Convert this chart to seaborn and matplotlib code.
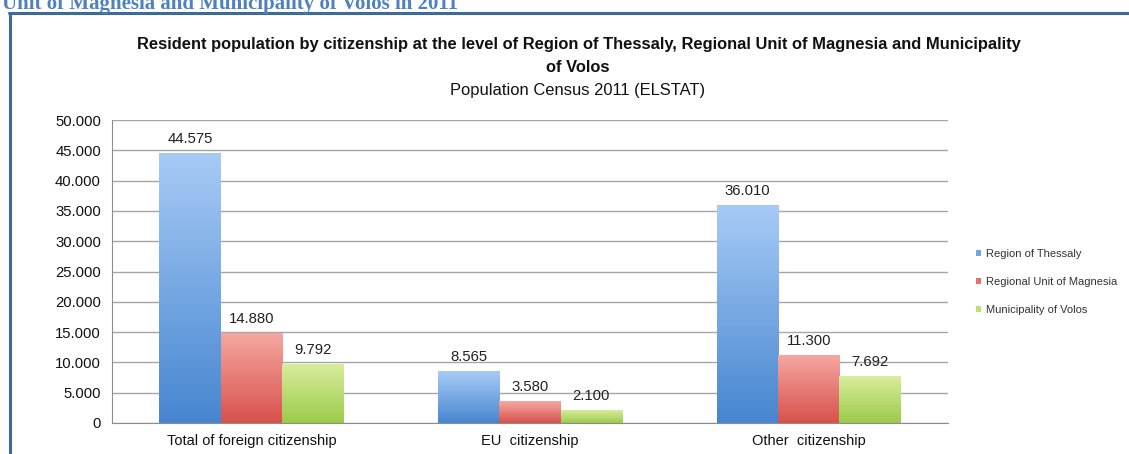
import matplotlib
matplotlib.use("Agg")
import matplotlib.pyplot as plt
import numpy as np
import pandas as pd
import seaborn as sns
from matplotlib.colors import LinearSegmentedColormap
from matplotlib.lines import Line2D
from matplotlib.patches import Patch

# Données (recensement 2011, ELSTAT)
categories = ['Total of foreign citizenship', 'EU  citizenship', 'Other  citizenship']
series = ['Region of Thessaly', 'Regional Unit of Magnesia', 'Municipality of Volos']
thessaly = [44575, 8565, 36010]
magnesia = [14880, 3580, 11300]
volos = [9792, 2100, 7692]
yticks = [0, 5000, 10000, 15000, 20000, 25000, 30000, 35000, 40000, 45000, 50000]

df = pd.DataFrame({
    'Categorie': categories * 3,
    'Serie': [s for s in series for _ in categories],
    'Valeur': thessaly + magnesia + volos,
})

# couleurs (haut clair, bas foncé)
gradients = [('#a8cbf6', '#4686d0'), ('#f6a8a2', '#d8514c'), ('#d9ed9e', '#9ccb4a')]
solid = ['#6ea6e6', '#e6706a', '#bddf78']

sns.set_style('white')
plt.rcParams['font.family'] = ['Liberation Sans', 'DejaVu Sans']

fig = plt.figure(figsize=(11.29, 4.54), dpi=100)
ax = fig.add_axes([112 / 1129, 1 - 423 / 454, (948 - 112) / 1129, (423 - 120) / 454])

sns.barplot(data=df, x='Categorie', y='Valeur', hue='Serie', order=categories,
            hue_order=series, palette=solid, width=0.66, gap=0, linewidth=0,
            legend=False, ax=ax, zorder=2)

# dégradé vertical dans chaque barre
for cont, (top, bot) in zip(ax.containers, gradients):
    cmap = LinearSegmentedColormap.from_list('g', [bot, top])
    for bar in cont:
        x0, w, h = bar.get_x(), bar.get_width(), bar.get_height()
        im = ax.imshow(np.linspace(0, 1, 256).reshape(-1, 1), extent=[x0, x0 + w, 0, h],
                       origin='lower', cmap=cmap, aspect='auto', zorder=2.5)
        im.set_clip_path(bar)
    ax.bar_label(cont, labels=[f'{v:,.0f}'.replace(',', '.') for v in cont.datavalues],
                 padding=5, fontsize=10.7, color='#222222', zorder=3)

ax.set_xlim(-0.5, 2.5)
ax.set_ylim(0, 50000)
ax.set_yticks(yticks)
ax.set_yticklabels([f'{v:,}'.replace(',', '.') for v in yticks])
ax.yaxis.grid(True, color='#a6a6a6', linewidth=1)
ax.set_axisbelow(True)
for s in ['top', 'right']:
    ax.spines[s].set_visible(False)
for s in ['left', 'bottom']:
    ax.spines[s].set_color('#8c8c8c')
ax.tick_params(axis='y', length=6, width=1, color='#8c8c8c', pad=2, labelsize=10.7, labelcolor='#111111')
ax.set_xticks([-0.5, 0.5, 1.5, 2.5], minor=True)
ax.tick_params(axis='x', which='minor', length=3, color='#8c8c8c')
ax.tick_params(axis='x', which='major', length=0, pad=8, labelsize=10.5, labelcolor='#111111')
ax.set_xlabel('')
ax.set_ylabel('Individuals', fontsize=7, fontweight='bold')
ax.yaxis.label.set_transform(fig.transFigure)
ax.yaxis.label.set_position((42 / 1129, 1 - 273 / 454))

# légende
handles = [Patch(facecolor=c, edgecolor='none') for c in solid]
ax.legend(handles, series, loc='center left', bbox_to_anchor=(976 / 1129, 1 - 282 / 454),
          bbox_transform=fig.transFigure, frameon=False, fontsize=8.0, handlelength=0.45,
          handleheight=0.45, handletextpad=0.45, labelspacing=1.6, borderpad=0, borderaxespad=0,
          labelcolor='#333333')

# titres
fig.text(579 / 1129, 1 - 45 / 454, 'Resident population by citizenship at the level of Region of Thessaly, '
         'Regional Unit of Magnesia and Municipality', ha='center', va='center',
         fontsize=11.9, fontweight='bold', color='#111111')
fig.text(578 / 1129, 1 - 67 / 454, 'of Volos', ha='center', va='center',
         fontsize=11.9, fontweight='bold', color='#111111')
fig.text(578 / 1129, 1 - 90 / 454, 'Population Census 2011 (ELSTAT)', ha='center', va='center',
         fontsize=11.9, color='#111111')

# en-tête du document et cadre
fig.text(2 / 1129, 1 - 9 / 454, 'Unit of Magnesia and Municipality of Volos in 2011', ha='left',
         va='baseline', fontsize=15, fontweight='bold', color='#4f81bd', family='Liberation Serif')
fig.add_artist(Line2D([9 / 1129, 1], [1 - 13 / 454, 1 - 13 / 454], transform=fig.transFigure,
                      color='#3d6a9e', linewidth=2.2))
fig.add_artist(Line2D([10 / 1129, 10 / 1129], [0, 1 - 13 / 454], transform=fig.transFigure,
                      color='#3d6a9e', linewidth=2.2))

fig.savefig('out.png', dpi=100)
